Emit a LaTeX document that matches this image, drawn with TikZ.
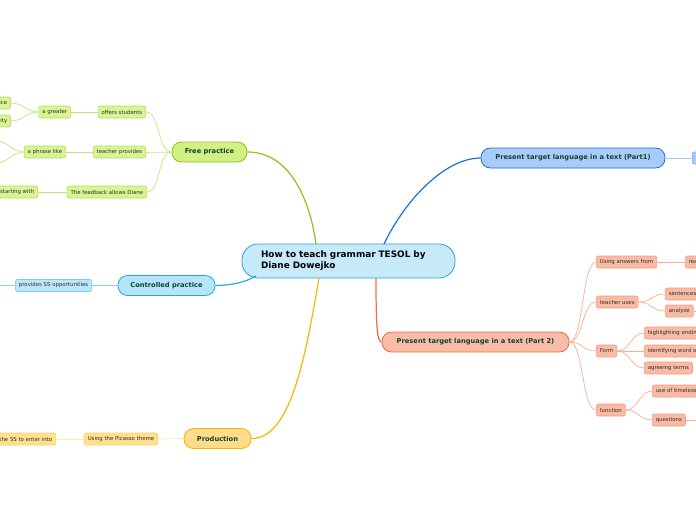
\documentclass[tikz,border=0pt]{standalone}
\usepackage{fontspec}
\setmainfont{DejaVu Sans}
\definecolor{textgray}{HTML}{2E2E2E}
\definecolor{maintext}{HTML}{17402F}
\definecolor{cfill}{HTML}{C7EAFB}\definecolor{cdraw}{HTML}{3B9BD6}
\definecolor{gfill}{HTML}{D2F084}\definecolor{gdraw}{HTML}{8DC21F}
\definecolor{gcfill}{HTML}{D8F596}\definecolor{gcdraw}{HTML}{B5E05A}\definecolor{gline}{HTML}{C5E47A}
\definecolor{bfill}{HTML}{B3E5FC}\definecolor{bdraw}{HTML}{29A8E0}
\definecolor{bcfill}{HTML}{BDE6FB}\definecolor{bcdraw}{HTML}{7CCCF0}\definecolor{bline}{HTML}{8CD0F0}
\definecolor{yfill}{HTML}{FFDC8A}\definecolor{ydraw}{HTML}{F5B700}
\definecolor{ycfill}{HTML}{FFE08F}\definecolor{ycdraw}{HTML}{FFD060}\definecolor{yline}{HTML}{FFE8A8}
\definecolor{pfill}{HTML}{A8CCFA}\definecolor{pdraw}{HTML}{1F6FD8}
\definecolor{pcdraw}{HTML}{6FA8F0}\definecolor{pline}{HTML}{A8C8F0}
\definecolor{rfill}{HTML}{F9BCA8}\definecolor{rdraw}{HTML}{F26B3A}
\definecolor{rcfill}{HTML}{F9BBA5}\definecolor{rcdraw}{HTML}{F59D80}\definecolor{rline}{HTML}{F8AE94}
\begin{document}
\begin{tikzpicture}[x=1pt,y=-1pt,
  leaf/.style={draw, line width=0.6pt, inner xsep=3.5pt, inner ysep=0pt, minimum height=12pt, rounded corners=2pt, font=\fontsize{5.4}{6}\selectfont, text=textgray},
  topic/.style={draw, line width=0.8pt, rounded corners=9.5pt, minimum height=20pt, inner xsep=2pt, font=\fontsize{6.7}{7}\selectfont\bfseries, text=maintext},
  green/.style={leaf, fill=gcfill, draw=gcdraw},
  blue/.style={leaf, fill=bcfill, draw=bcdraw},
  yellow/.style={leaf, fill=ycfill, draw=ycdraw},
  pblue/.style={leaf, fill=pfill, draw=pcdraw},
  red/.style={leaf, fill=rcfill, draw=rcdraw},
  gedge/.style={draw=gline, line width=0.7pt},
  bedge/.style={draw=bline, line width=0.7pt},
  yedge/.style={draw=yline, line width=0.7pt},
  pedge/.style={draw=pline, line width=0.9pt},
  redge/.style={draw=rline, line width=0.7pt},
  mainedge/.style={line width=1.2pt}
]
\useasboundingbox (0,0) rectangle (696,520);

% central
\node[draw=cdraw, fill=cfill, line width=0.8pt, rounded corners=16pt, text width=175pt, align=left, inner xsep=19pt, minimum width=213pt, minimum height=34pt, font=\fontsize{8.9}{11}\selectfont\bfseries] (c) at (348.5,261) {How to teach grammar TESOL by\\Diane Dowejko};

% main topics
\node[topic, fill=gfill, draw=gdraw, minimum width=75pt] (fp) at (209.5,152) {Free practice};
\node[topic, fill=bfill, draw=bdraw, minimum width=97pt] (cp) at (166.5,285.5) {Controlled practice};
\node[topic, fill=yfill, draw=ydraw, minimum width=67pt] (pr) at (217.5,438.5) {Production};
\node[topic, fill=pfill, draw=pdraw, minimum width=184pt] (p1) at (573,158) {Present target language in a text (Part1)};
\node[topic, fill=rfill, draw=rdraw, minimum width=187pt] (p2) at (475.5,342) {Present target language in a text (Part 2)};

% main connectors
\draw[mainedge, draw=gdraw] (fp.east) .. controls (290,152) and (310,200) .. (316,244);
\draw[mainedge, draw=pdraw] (384,244) .. controls (405,200) and (445,158) .. (p1.west);
\draw[mainedge, draw=bdraw] (cp.east) .. controls (235,285) and (245,282) .. (256,276);
\draw[mainedge, draw=ydraw] (319,278) .. controls (305,360) and (290,439) .. (pr.east);
\draw[mainedge, draw=rdraw] (376,278) .. controls (376,325) and (377,342) .. (p2.west);

% Free practice branch
\node[green, anchor=east] (os) at (146,112) {offers students};
\node[green, anchor=east] (tp) at (146,152) {teacher provides};
\node[green, anchor=east] (fb) at (147,192) {The feedback allows Diane};
\node[green, anchor=east] (ag) at (71,112) {a greater};
\node[green, anchor=east] (pl) at (66,152) {a phrase like};
\node[green, anchor=east] (sw) at (38,192) {starting with};
\node[green, anchor=east] (ce) at (11,103) {practice};
\node[green, anchor=east] (it) at (11,121) {opportunity};
\coordinate (pla) at (-4,141);
\coordinate (plb) at (-4,163);
\foreach \n in {os,tp,fb}{
  \draw[gedge] (fp.west) .. controls +(-14,0) and +(14,0) .. (\n.east);
}
\draw[gedge] (os.west) -- (ag.east);
\draw[gedge] (tp.west) -- (pl.east);
\draw[gedge] (fb.west) -- (sw.east);
\draw[gedge] (ag.west) .. controls +(-12,0) and +(12,0) .. (ce.east);
\draw[gedge] (ag.west) .. controls +(-12,0) and +(12,0) .. (it.east);
\draw[gedge] (pl.west) .. controls +(-12,0) and +(12,0) .. (pla);
\draw[gedge] (pl.west) .. controls +(-12,0) and +(12,0) .. (plb);

% Controlled practice branch
\node[blue, anchor=east] (ps) at (92,285.5) {provides SS opportunities};
\coordinate (psl) at (-4,285.5);
\draw[bedge] (cp.west) -- (ps.east);
\draw[bedge] (ps.west) -- (psl);

% Production branch
\node[yellow, anchor=east] (up) at (158,439) {Using the Picasso theme};
\node[yellow, anchor=east] (se) at (56,439) {the SS to enter into};
\draw[yedge] (pr.west) -- (up.east);
\draw[yedge] (up.west) -- (se.east);

% Part1 branch
\node[pblue, anchor=west, minimum width=30pt] (p1c) at (692,158) {};
\draw[pedge] (p1.east) -- (p1c.west);

% Part 2 branch
\node[red, anchor=west] (ua) at (596,262) {Using answers from};
\node[red, anchor=west] (tu) at (596,302) {teacher uses};
\node[red, anchor=west] (fo) at (596,351) {Form};
\node[red, anchor=west] (fu) at (596,410) {function};
\node[red, anchor=west] (re) at (685,262) {reading};
\node[red, anchor=west] (sn) at (665,294) {sentences};
\node[red, anchor=west] (an) at (665,311) {analyze};
\node[red, anchor=west] (hi) at (644,333) {highlighting endings};
\node[red, anchor=west] (iw) at (644,351) {identifying word order};
\node[red, anchor=west] (at) at (644,368) {agreeing terms};
\node[red, anchor=west] (ut) at (652,391) {use of timeless present};
\node[red, anchor=west] (qu) at (652,420) {questions};
\coordinate (anr) at (702,311);
\coordinate (qur) at (702,420);
\foreach \n in {ua,tu,fo,fu}{
  \draw[redge] (p2.east) .. controls +(14,0) and +(-14,0) .. (\n.west);
}
\draw[redge] (ua.east) -- (re.west);
\draw[redge] (tu.east) .. controls +(13,0) and +(-13,0) .. (sn.west);
\draw[redge] (tu.east) .. controls +(13,0) and +(-13,0) .. (an.west);
\draw[redge] (fo.east) .. controls +(13,0) and +(-13,0) .. (hi.west);
\draw[redge] (fo.east) -- (iw.west);
\draw[redge] (fo.east) .. controls +(13,0) and +(-13,0) .. (at.west);
\draw[redge] (fu.east) .. controls +(13,0) and +(-13,0) .. (ut.west);
\draw[redge] (fu.east) .. controls +(13,0) and +(-13,0) .. (qu.west);
\draw[redge] (an.east) -- (anr);
\draw[redge] (qu.east) -- (qur);
\end{tikzpicture}
\end{document}
